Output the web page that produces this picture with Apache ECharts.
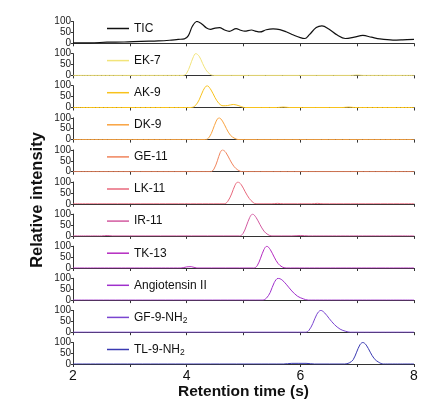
<!DOCTYPE html>
<html>
<head>
<meta charset="utf-8">
<script src="https://cdn.jsdelivr.net/npm/echarts@6/dist/echarts.min.js"></script>
<style>
  html, body { margin: 0; padding: 0; background: #fff; }
  #box { width: 437px; height: 401px; }
</style>
</head>
<body>
<div id="box"></div>
<script>
// trace names, top to bottom
let names = ['TIC', 'EK-7', 'AK-9', 'DK-9', 'GE-11', 'LK-11', 'IR-11', 'TK-13', 'Angiotensin II', 'GF-9-NH2', 'TL-9-NH2'];
let colors = ['#111111', '#f2e47a', '#f8c21c', '#f9a340', '#f0845c', '#e8687c', '#d25aa0', '#b52bc0', '#9f30cc', '#7a45d0', '#3a3ab2'];
let xTicks = [2, 4, 6, 8];

// [retention time (s), relative intensity]
let tic = [[2.0, 2], [2.3, 2], [2.6, 5], [2.9, 6], [3.2, 9], [3.5, 11], [3.7, 14], [3.85, 18], [3.96, 20], [4.03, 35],
    [4.1, 78], [4.18, 100], [4.26, 90], [4.35, 70], [4.42, 64], [4.5, 70], [4.58, 72], [4.66, 62], [4.75, 55], [4.87, 67],
    [4.95, 60], [5.02, 56], [5.14, 61], [5.22, 55], [5.29, 52], [5.4, 62], [5.52, 66], [5.64, 63], [5.75, 53], [5.88, 38],
    [6.0, 26], [6.08, 22], [6.16, 40], [6.28, 72], [6.38, 80], [6.5, 66], [6.65, 38], [6.79, 22], [6.95, 28], [7.1, 36],
    [7.25, 28], [7.4, 20], [7.63, 15], [7.8, 16], [8.0, 18]];
let ek7 = [[2, 0], [3.94, 0], [4.0, 10], [4.06, 45], [4.11, 80], [4.16, 100], [4.22, 88], [4.28, 55], [4.34, 25], [4.4, 8], [4.47, 0], [6.9, 0], [7.0, 2], [7.1, 0], [8, 0]];
let ak9 = [[2, 0], [4.08, 0], [4.15, 8], [4.22, 35], [4.29, 78], [4.36, 100], [4.43, 80], [4.5, 45], [4.57, 18], [4.64, 8],
    [4.72, 9], [4.82, 14], [4.92, 8], [5.02, 0], [5.6, 0], [5.7, 2], [5.8, 0], [6.75, 0], [6.85, 2], [6.95, 0], [8, 0]];
let dk9 = [[2, 0], [4.33, 0], [4.4, 12], [4.46, 45], [4.52, 85], [4.57, 100], [4.63, 85], [4.7, 50], [4.77, 20], [4.85, 5], [4.92, 0], [8, 0]];
let ge11 = [[2, 0], [4.42, 0], [4.48, 12], [4.54, 50], [4.59, 88], [4.63, 100], [4.69, 88], [4.76, 55], [4.83, 25], [4.9, 8], [4.98, 0], [8, 0]];
let lk11 = [[2, 0], [4.66, 0], [4.72, 10], [4.79, 45], [4.85, 85], [4.9, 100], [4.96, 88], [5.03, 55], [5.1, 25], [5.17, 6], [5.22, 0],
    [5.5, 0], [5.6, 2], [5.7, 0], [6.2, 0], [6.3, 2], [6.4, 0], [8, 0]];
let ir11 = [[2, 0], [2.5, 0], [2.6, 2], [2.7, 0], [4.93, 0], [4.99, 10], [5.05, 45], [5.11, 85], [5.16, 100], [5.22, 85], [5.29, 52],
    [5.36, 22], [5.43, 6], [5.5, 0], [5.85, 0], [6.0, 2], [6.15, 0], [8, 0]];
let tk13 = [[2, 0], [3.9, 0], [4.0, 5], [4.08, 6], [4.18, 0], [5.18, 0], [5.24, 10], [5.3, 45], [5.36, 85], [5.41, 100], [5.47, 85],
    [5.54, 50], [5.61, 20], [5.68, 5], [5.75, 0], [8, 0]];
let angio = [[2, 0], [5.33, 0], [5.4, 8], [5.47, 35], [5.54, 80], [5.61, 100], [5.68, 92], [5.76, 70], [5.85, 42], [5.95, 18], [6.05, 6], [6.14, 0], [8, 0]];
let gf9 = [[2, 0], [6.09, 0], [6.15, 8], [6.22, 40], [6.29, 82], [6.36, 100], [6.43, 88], [6.51, 62], [6.6, 35], [6.7, 14], [6.8, 4], [6.88, 0], [8, 0]];
let tl9 = [[2, 0], [5.7, 0], [5.85, 3], [6.1, 3], [6.25, 0], [6.78, 0], [6.86, 5], [6.93, 20], [6.99, 55], [7.05, 90], [7.1, 100],
    [7.16, 88], [7.23, 55], [7.3, 25], [7.38, 8], [7.46, 0], [8, 0]];
let traces = [tic, ek7, ak9, dk9, ge11, lk11, ir11, tk13, angio, gf9, tl9];

let font = 'Liberation Sans, Arial, sans-serif';
let box = document.querySelector('#box');
let myChart = echarts.init(box);

let grids = [], xAxes = [], yAxes = [], series = [], legends = [];
let last = names.length - 1;
for (let i = 0; i < names.length; i++) {
    let top = 21.5 + 32.1 * i;
    grids.push({ left: 73, right: 23, top: top, height: 21.8 });
    xAxes.push({
        type: 'value', gridIndex: i, min: 2, max: 8, interval: 1,
        axisLine: { lineStyle: { color: '#333', width: 1 } },
        axisTick: { length: 3, lineStyle: { color: '#333' } },
        splitLine: { show: false },
        axisLabel: {
            show: i === last, margin: 5, fontSize: 14, color: '#111', fontFamily: font,
            formatter: v => xTicks.indexOf(v) >= 0 ? String(v) : ''
        },
        name: i === last ? 'Retention time (s)' : '',
        nameLocation: 'middle', nameGap: 20,
        nameTextStyle: { fontSize: 15.5, fontWeight: 'bold', color: '#111', fontFamily: font }
    });
    yAxes.push({
        type: 'value', gridIndex: i, min: 0, max: 100, interval: 50,
        axisLine: { show: true, lineStyle: { color: '#333', width: 1 } },
        axisTick: { show: true, length: 2, lineStyle: { color: '#333' } },
        splitLine: { show: false },
        axisLabel: { margin: 2, fontSize: 10, color: '#222', fontFamily: font }
    });
    series.push({
        name: names[i], type: 'line', xAxisIndex: i, yAxisIndex: i,
        data: traces[i], smooth: 0.35, symbol: 'none',
        lineStyle: { color: colors[i], width: i === 0 ? 1.2 : 1 },
        itemStyle: { color: colors[i] }, z: 3
    });
    legends.push({
        data: [names[i]], left: 107, top: top + 1,
        itemWidth: 22, itemHeight: 14, padding: 0,
        icon: 'path://M0,0 H22 V1.5 H0 Z',
        formatter: n => n.replace(/NH2$/, 'NH{s|2}'),
        textStyle: {
            fontSize: 12, color: '#111', fontFamily: font,
            rich: { s: { fontSize: 8.5, color: '#111', fontFamily: font, verticalAlign: 'bottom', padding: [7, 0, 0, 0] } }
        }
    });
}

let option = {
    animation: false,
    textStyle: { fontFamily: font },
    grid: grids,
    xAxis: xAxes,
    yAxis: yAxes,
    legend: legends,
    graphic: [{
        type: 'text', x: 37.5, y: 200, rotation: Math.PI / 2,
        style: {
            text: 'Relative intensity', fontSize: 16.5, fontWeight: 'bold', fill: '#111',
            fontFamily: font, textAlign: 'center', textVerticalAlign: 'middle'
        }
    }],
    series: series
};
myChart.setOption(option);
</script>
</body>
</html>
